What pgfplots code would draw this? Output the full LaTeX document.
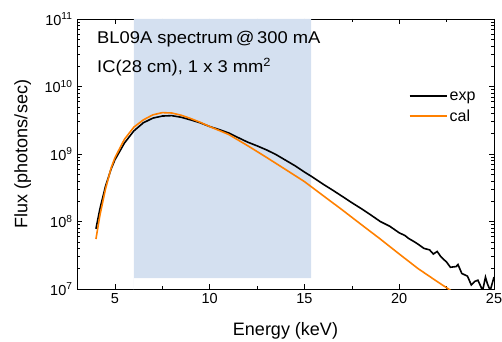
\documentclass[border=0pt]{standalone}
\usepackage{pgfplots}
\pgfplotsset{compat=1.18}
\usepackage{fontspec}
\setmainfont{Liberation Sans}
\newfontfamily\stretched[FakeStretch=1.08]{Liberation Sans}
\definecolor{shade}{RGB}{212,224,240}
\definecolor{calor}{RGB}{255,128,0}
\begin{document}
\begin{tikzpicture}
\begin{axis}[
  scale only axis, width=417pt, height=270pt,
  at={(0,0)}, anchor=south west,
  xmin=3, xmax=25, ymin=1e7, ymax=1e11,
  ymode=log,
  xtick={5,10,15,20,25},
  minor xtick={7.5,12.5,17.5,22.5},
  ytick={1e7,1e8,1e9,1e10,1e11},
  yticklabels={10\textsuperscript{7},10\textsuperscript{8},10\textsuperscript{9},10\textsuperscript{10},10\textsuperscript{11}},
  tick align=inside,
  major tick length=5pt, minor tick length=3pt,
  tick style={black, line width=0.6pt},
  axis line style={line width=0.8pt},
  /pgf/number format/assume math mode=true,
  tick label style={font=\fontsize{14.5}{16}\selectfont},
  xticklabel style={yshift=-1pt},
  yticklabel style={xshift=-1pt},
  xlabel={Energy (keV)}, ylabel={Flux (photons/sec)},
  label style={font=\fontsize{18}{20}\selectfont},
  xlabel style={at={(axis description cs:0.5,-0.155)}, anchor=center},
  ylabel style={at={(axis description cs:-0.13,0.5)}, anchor=center, rotate=0},
  legend style={at={(rel axis cs:0.795,0.74)}, anchor=north west, draw=none, fill=none,
    font=\fontsize{16}{18}\selectfont, row sep=4pt, inner sep=0pt},
  legend image code/.code={\draw[#1, line width=2pt] (0pt,0pt) -- (37pt,0pt);},
  legend cell align=left,
  clip=true,
]
\addplot[draw=none, fill=shade, forget plot] coordinates {(6,1.45e7) (15.35,1.45e7) (15.35,1e11) (6,1e11)} \closedcycle;
\addplot[black, line width=1.6pt] coordinates {
(4.0,7.8e7) (4.2,1.5e8) (4.5,3.3e8) (4.8,6.0e8) (5.0,8.2e8) (5.5,1.45e9) (6.0,2.2e9)
(6.5,2.9e9) (7.0,3.4e9) (7.5,3.65e9) (8.0,3.7e9) (8.5,3.5e9) (9.0,3.2e9) (9.5,2.9e9)
(10.0,2.55e9) (10.5,2.3e9) (11.0,2.05e9) (11.5,1.75e9) (12.0,1.5e9) (12.5,1.32e9)
(13.0,1.15e9) (13.5,9.8e8) (14.0,8.1e8) (14.5,6.7e8) (15.0,5.4e8) (15.4,4.6e8)
(16.0,3.55e8) (16.5,2.9e8) (17.0,2.35e8) (17.5,1.9e8) (18.0,1.55e8) (18.5,1.25e8)
(19.0,1.0e8) (19.5,8.5e7) (20.0,6.8e7) (20.3,6.2e7) (20.5,5.6e7) (20.8,5.0e7)
(21.0,4.6e7) (21.3,4.0e7) (21.6,3.8e7) (21.8,3.3e7) (22.0,3.6e7) (22.2,3.0e7)
(22.5,2.5e7) (22.7,2.1e7) (23.0,2.15e7) (23.1,2.3e7) (23.3,1.7e7) (23.6,1.55e7)
(23.8,1.15e7) (24.0,1.3e7) (24.15,1.35e7) (24.4,0.95e7) (24.55,1.5e7) (24.65,1.2e7)
(24.8,0.95e7) (25.0,1.5e7)
};
\addlegendentry{exp}
\addplot[calor, line width=1.6pt] coordinates {
(4.0,5.5e7) (4.2,1.2e8) (4.5,3.0e8) (4.8,6.2e8) (5.0,8.8e8) (5.5,1.65e9) (6.0,2.5e9)
(6.5,3.2e9) (7.0,3.8e9) (7.5,4.1e9) (8.0,4.05e9) (8.5,3.75e9) (9.0,3.35e9) (9.5,2.95e9)
(10.0,2.55e9) (11.0,1.95e9) (12.0,1.33e9) (13.0,8.9e8) (14.0,5.9e8) (15.0,3.9e8)
(16.0,2.4e8) (17.0,1.48e8) (18.0,9.0e7) (19.0,5.5e7) (20.0,3.3e7) (21.0,2.0e7)
(22.0,1.29e7) (22.6,1.0e7) (23.0,0.83e7)
};
\addlegendentry{cal}
\node[anchor=west, font=\stretched\fontsize{17}{20}\selectfont] at (rel axis cs:0.04,0.926) {BL09A spectrum\,@\,300 mA};
\node[anchor=west, font=\stretched\fontsize{17}{20}\selectfont] at (rel axis cs:0.04,0.822) {IC(28 cm), 1 x 3 mm\textsuperscript{2}};
\end{axis}
\pgfresetboundingbox
\useasboundingbox (-77pt,-52pt) rectangle (425pt,289pt);
\end{tikzpicture}
\end{document}
